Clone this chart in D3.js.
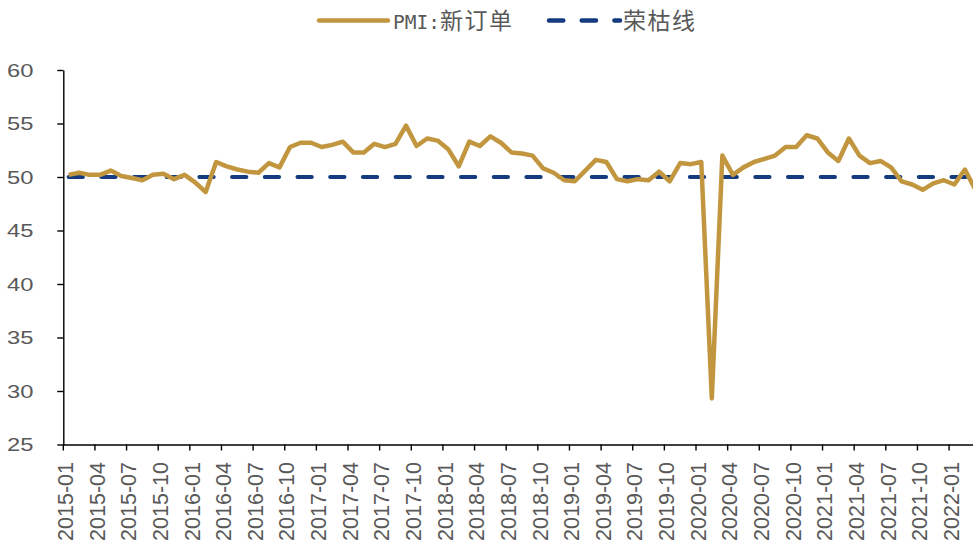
<!DOCTYPE html>
<html>
<head>
<meta charset="utf-8">
<script src="https://cdn.jsdelivr.net/npm/d3@7/dist/d3.min.js"></script>
<style>
  html, body { margin: 0; padding: 0; background: #fff; overflow: hidden; }
  svg { display: block; }
</style>
</head>
<body>
<svg id="chart" width="973" height="542"></svg>
<script>
// ---- data ----
const months = [
  "2015-01","2015-02","2015-03","2015-04","2015-05","2015-06","2015-07","2015-08","2015-09","2015-10","2015-11","2015-12",
  "2016-01","2016-02","2016-03","2016-04","2016-05","2016-06","2016-07","2016-08","2016-09","2016-10","2016-11","2016-12",
  "2017-01","2017-02","2017-03","2017-04","2017-05","2017-06","2017-07","2017-08","2017-09","2017-10","2017-11","2017-12",
  "2018-01","2018-02","2018-03","2018-04","2018-05","2018-06","2018-07","2018-08","2018-09","2018-10","2018-11","2018-12",
  "2019-01","2019-02","2019-03","2019-04","2019-05","2019-06","2019-07","2019-08","2019-09","2019-10","2019-11","2019-12",
  "2020-01","2020-02","2020-03","2020-04","2020-05","2020-06","2020-07","2020-08","2020-09","2020-10","2020-11","2020-12",
  "2021-01","2021-02","2021-03","2021-04","2021-05","2021-06","2021-07","2021-08","2021-09","2021-10","2021-11","2021-12",
  "2022-01","2022-02","2022-03"
];
const pmiNewOrders = [
  50.2, 50.4, 50.2, 50.2, 50.6, 50.1, 49.9, 49.7, 50.2, 50.3, 49.8, 50.2,
  49.5, 48.6, 51.4, 51.0, 50.7, 50.5, 50.4, 51.3, 50.9, 52.8, 53.2, 53.2,
  52.8, 53.0, 53.3, 52.3, 52.3, 53.1, 52.8, 53.1, 54.8, 52.9, 53.6, 53.4,
  52.6, 51.0, 53.3, 52.9, 53.8, 53.2, 52.3, 52.2, 52.0, 50.8, 50.4, 49.7,
  49.6, 50.6, 51.6, 51.4, 49.8, 49.6, 49.8, 49.7, 50.5, 49.6, 51.3, 51.2,
  51.4, 29.3, 52.0, 50.2, 50.9, 51.4, 51.7, 52.0, 52.8, 52.8, 53.9, 53.6,
  52.3, 51.5, 53.6, 52.0, 51.3, 51.5, 50.9, 49.6, 49.3, 48.8, 49.4, 49.7,
  49.3, 50.7, 48.8
];
const boomBustLevel = 50;
const xTickLabels = [
  "2015-01","2015-04","2015-07","2015-10","2016-01","2016-04","2016-07","2016-10",
  "2017-01","2017-04","2017-07","2017-10","2018-01","2018-04","2018-07","2018-10",
  "2019-01","2019-04","2019-07","2019-10","2020-01","2020-04","2020-07","2020-10",
  "2021-01","2021-04","2021-07","2021-10","2022-01"
];
const yTicks = [25, 30, 35, 40, 45, 50, 55, 60];
const seriesNames = ["PMI:新订单", "荣枯线"];

// ---- layout ----
const GOLD = "#C1963F";
const NAVY = "#143A80";
const TEXT = "#595959";
const x0 = 63.3, step = 10.545;

const svg = d3.select("#chart");
const x = d3.scaleBand().domain(months).range([x0, x0 + months.length * step]).paddingInner(0).paddingOuter(0);
const y = d3.scaleLinear().domain([25, 60]).range([444.5, 70]);
const cx = d => x(d) + x.bandwidth() / 2;

// y axis
const yAxis = svg.append("g").attr("transform", `translate(${x0},0)`)
  .call(d3.axisLeft(y).tickValues(yTicks).tickSize(6).tickSizeOuter(0).tickFormat(""));
yAxis.select(".domain").attr("stroke", "#000").attr("stroke-width", 1.4);
yAxis.selectAll(".tick line").attr("stroke", "#000").attr("stroke-width", 1.4);
svg.append("g").selectAll("text").data(yTicks).join("text")
  .attr("transform", d => `translate(33.5,${y(d)}) scale(1.25,1)`)
  .attr("text-anchor", "end").attr("dy", "0.36em")
  .attr("font-family", "'Liberation Sans', Arial, sans-serif")
  .attr("font-size", 19).attr("fill", TEXT)
  .text(d => d);

// x axis
const xAxisG = svg.append("g").attr("transform", `translate(0,${y(25)})`)
  .call(d3.axisBottom(x).tickValues(xTickLabels).tickSize(6).tickSizeOuter(0).tickFormat(""));
xAxisG.selectAll(".tick").attr("transform", d => `translate(${x(d)},0)`);
xAxisG.select(".domain").attr("stroke", "#000").attr("stroke-width", 1.4);
xAxisG.selectAll(".tick line").attr("stroke", "#000").attr("stroke-width", 1.4);
svg.append("g").selectAll("text").data(xTickLabels).join("text")
  .attr("transform", d => `translate(${x(d) + 2},462) rotate(-90)`)
  .attr("text-anchor", "end").attr("dy", "0.36em")
  .attr("font-family", "'Liberation Sans', Arial, sans-serif")
  .attr("font-size", 21.5).attr("fill", TEXT)
  .text(d => d);

// 荣枯线
svg.append("path")
  .datum(months)
  .attr("fill", "none").attr("stroke", NAVY).attr("stroke-width", 4)
  .attr("stroke-linecap", "round").attr("stroke-dasharray", "14.3,18.4")
  .attr("d", d3.line().x(d => cx(d)).y(() => y(boomBustLevel)));

// PMI line
svg.append("path")
  .datum(pmiNewOrders)
  .attr("fill", "none").attr("stroke", GOLD).attr("stroke-width", 4.5)
  .attr("stroke-linejoin", "round")
  .attr("d", d3.line().x((d, i) => cx(months[i])).y(d => y(d)));

// legend
const lg = svg.append("g");
lg.append("line").attr("x1", 319).attr("x2", 388).attr("y1", 20.5).attr("y2", 20.5)
  .attr("stroke", GOLD).attr("stroke-width", 4.5).attr("stroke-linecap", "round");
const t1 = lg.append("text").attr("x", 393).attr("y", 29).attr("fill", TEXT);
t1.append("tspan").attr("font-family", "'DejaVu Sans Mono', monospace").attr("font-size", 19.5).text("PMI:");
t1.append("tspan").attr("font-family", "'Noto Sans CJK SC', sans-serif").attr("font-size", 23).attr("letter-spacing", 1.5).text("新订单");
lg.append("line").attr("x1", 549).attr("x2", 620).attr("y1", 20.5).attr("y2", 20.5)
  .attr("stroke", NAVY).attr("stroke-width", 4.5).attr("stroke-linecap", "round")
  .attr("stroke-dasharray", "14.3,18.4");
lg.append("text").attr("x", 623).attr("y", 29).attr("fill", TEXT)
  .attr("font-family", "'Noto Sans CJK SC', sans-serif").attr("font-size", 23).attr("letter-spacing", 1.5)
  .text(seriesNames[1]);
</script>
</body>
</html>
